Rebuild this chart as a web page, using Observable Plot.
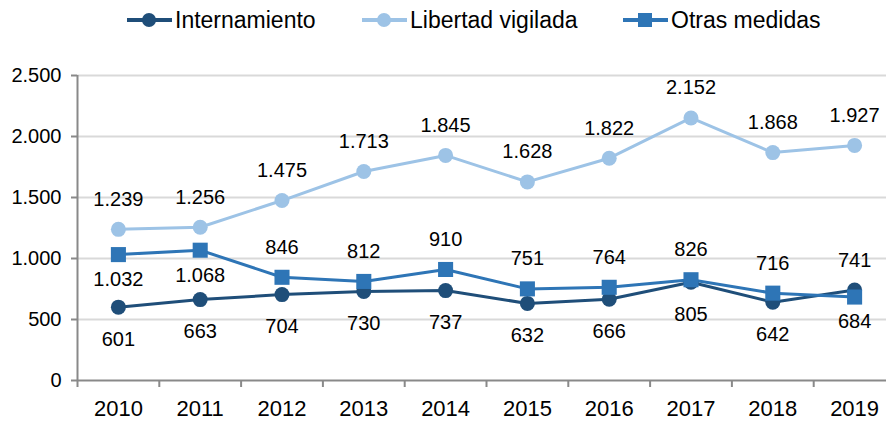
<!DOCTYPE html>
<html>
<head>
<meta charset="utf-8">
<script src="https://cdn.jsdelivr.net/npm/d3@7"></script>
<script src="https://cdn.jsdelivr.net/npm/@observablehq/plot@0.6"></script>
<style>
  html, body { margin: 0; padding: 0; background: #fff; overflow: hidden; }
  body { width: 886px; height: 423px; font-family: "Liberation Sans", Arial, sans-serif; }
  #legend { height: 45px; position: relative; }
  .item { position: absolute; top: 6px; display: flex; align-items: center; font-size: 23px; color: #000; }
  .item svg { margin-right: 3px; }
</style>
</head>
<body>
<div id="legend"></div>
<div id="chart"></div>
<script>
const years = [2010, 2011, 2012, 2013, 2014, 2015, 2016, 2017, 2018, 2019];
const internamiento = [601, 663, 704, 730, 737, 632, 666, 805, 642, 741];
const libertad = [1239, 1256, 1475, 1713, 1845, 1628, 1822, 2152, 1868, 1927];
const otras = [1032, 1068, 846, 812, 910, 751, 764, 826, 716, 684];
const yTicks = [0, 500, 1000, 1500, 2000, 2500];
const seriesNames = ["Internamiento", "Libertad vigilada", "Otras medidas"];
const placeInternamiento = ["below","below","below","below","below","below","below","below","below","above"];
const placeLibertad = ["above","above","above","above","above","above","above","above","above","above"];
const placeOtras = ["below","below","above","above","above","above","above","above","above","below"];

const loc = d3.formatLocale({decimal: ",", thousands: ".", grouping: [3], currency: ["", ""]});
const fmt = loc.format(",");

const series = [
  {name: seriesNames[0], values: internamiento, place: placeInternamiento, color: "#1f4e79", symbol: "circle", r: 7.5, below: 32},
  {name: seriesNames[1], values: libertad, place: placeLibertad, color: "#9dc3e6", symbol: "circle", r: 7.5, below: 32},
  {name: seriesNames[2], values: otras, place: placeOtras, color: "#2e75b6", symbol: "square", r: 8.5, below: 25}
];

// legend
const legendX = [127, 362, 623];
const legend = document.getElementById("legend");
series.forEach((s, i) => {
  const it = document.createElement("div");
  it.className = "item";
  it.style.left = legendX[i] + "px";
  const mk = s.symbol === "square"
    ? `<rect x="15" y="7" width="14" height="14" fill="${s.color}"/>`
    : `<circle cx="22" cy="14" r="7" fill="${s.color}"/>`;
  it.innerHTML = `<svg width="45" height="28"><line x1="0" x2="45" y1="14" y2="14" stroke="${s.color}" stroke-width="4"/>${mk}</svg><span>${s.name}</span>`;
  legend.appendChild(it);
});

const bounds = years.map(y => y - 0.5).concat([years[years.length - 1] + 0.5]);

const marks = [
  Plot.ruleY(yTicks.filter(d => d > 0), {stroke: "#d9d9d9", strokeWidth: 2}),
  Plot.ruleY([0], {stroke: "#898989", strokeWidth: 2}),
  Plot.ruleX([bounds[0]], {y1: 0, y2: yTicks[yTicks.length - 1], stroke: "#898989", strokeWidth: 2}),
  Plot.axisX(bounds, {tickSize: 7, stroke: "#898989", strokeWidth: 2, tickFormat: () => "", label: null}),
  Plot.axisX(years, {tickSize: 0, tickPadding: 20, fontSize: 22, fill: "#000", tickFormat: d => String(d), label: null}),
  Plot.axisY(yTicks, {tickSize: 6, tickPadding: 10, stroke: "#898989", strokeWidth: 2, fontSize: 20, fill: "#000", tickFormat: fmt, label: null})
];

series.forEach(s => {
  const data = years.map((y, i) => ({year: y, value: s.values[i], place: s.place[i]}));
  marks.push(Plot.line(data, {x: "year", y: "value", stroke: s.color, strokeWidth: 3}));
});
series.forEach(s => {
  const data = years.map((y, i) => ({year: y, value: s.values[i], place: s.place[i]}));
  marks.push(Plot.dot(data, {x: "year", y: "value", fill: s.color, r: s.r, symbol: s.symbol}));
});
series.forEach(s => {
  const data = years.map((y, i) => ({year: y, value: s.values[i], place: s.place[i]}));
  marks.push(Plot.text(data.filter(d => d.place === "above"), {x: "year", y: "value", text: d => fmt(d.value), dy: -30, fontSize: 20, fill: "#000"}));
  marks.push(Plot.text(data.filter(d => d.place === "below"), {x: "year", y: "value", text: d => fmt(d.value), dy: s.below, fontSize: 20, fill: "#000"}));
});

const chart = Plot.plot({
  width: 886,
  height: 378,
  marginTop: 30,
  marginBottom: 43,
  marginLeft: 77,
  marginRight: 0,
  style: {fontFamily: "'Liberation Sans', Arial, sans-serif", background: "#fff", overflow: "hidden"},
  x: {type: "linear", domain: [bounds[0], bounds[bounds.length - 1]], range: [77, 895], label: null},
  y: {domain: [0, 2500], label: null},
  marks
});
document.getElementById("chart").appendChild(chart);
</script>
</body>
</html>
